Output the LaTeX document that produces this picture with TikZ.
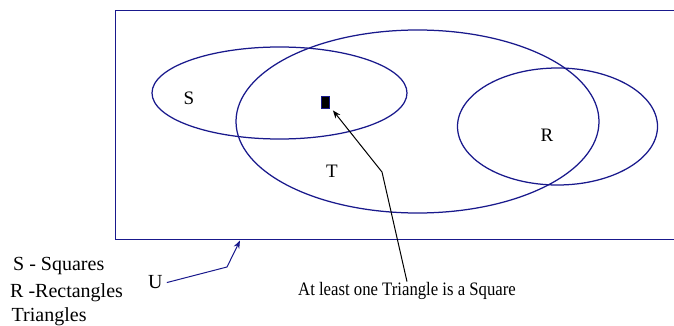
\documentclass[tikz,border=0pt]{standalone}
\usepackage{fontspec}
\setmainfont{Liberation Serif}
\newfontfamily\condfont[FakeStretch=0.88]{Liberation Serif}
\usetikzlibrary{shapes.geometric,arrows.meta}
\definecolor{setblue}{RGB}{25,25,140}
\tikzset{
  setline/.style={draw=setblue, line width=1.25pt},
  setellipse/.style={setline, ellipse, inner sep=0pt},
  lbl/.style={inner sep=0pt, font=\fontsize{20}{24}\selectfont},
  leftlbl/.style={lbl, anchor=base west},
  pointer/.style={line width=1pt, -{Stealth[length=8pt,width=6pt]}},
}
\begin{document}
\begin{tikzpicture}[x=1pt,y=-1pt]
\useasboundingbox (0,0) rectangle (674,326);
% universe rectangle (right side runs off the picture)
\draw[setline] (674,10.5) -- (115.5,10.5) -- (115.5,239.5) -- (674,239.5);
% sets
\node[setellipse, minimum width=255pt, minimum height=92pt] (S) at (279.5,93) {};
\node[setellipse, minimum width=363pt, minimum height=183pt] (T) at (417.5,121.5) {};
\node[setellipse, minimum width=200pt, minimum height=117pt] (R) at (557.5,126.5) {};
% set labels
\node[lbl, font=\fontsize{19}{22}\selectfont] (Slbl) at (189,98) {S};
\node[lbl, font=\fontsize{19}{22}\selectfont] (Tlbl) at (332,171) {T};
\node[lbl, font=\fontsize{19}{22}\selectfont] (Rlbl) at (547,135) {R};
% the square element
\node[draw=setblue, fill=black, line width=0.8pt, minimum width=8pt, minimum height=12pt, inner sep=0pt] (sq) at (325.5,102) {};
% annotation
\node[inner sep=0pt, anchor=base, font=\condfont\fontsize{19}{22}\selectfont] (txt) at (407,295) {At least one Triangle is a Square};
\coordinate (abend) at (382,172);
\draw[pointer, black] (txt.north) -- (abend) -- ([xshift=3pt,yshift=-2pt]sq.south east);
% U label and arrow
\node[leftlbl] (U) at (148,288) {U};
\coordinate (ubend) at (227,267);
\coordinate (utip) at (240,240.5);
\draw[pointer, setblue] ([xshift=4pt,yshift=-1pt]U.east) -- (ubend) -- (utip);
% legend
\node[leftlbl] (l1) at (13,270.5) {S - Squares};
\node[leftlbl] (l2) at (10,297) {R -Rectangles};
\node[leftlbl] (l3) at (11.5,321.3) {Triangles};
\end{tikzpicture}
\end{document}
